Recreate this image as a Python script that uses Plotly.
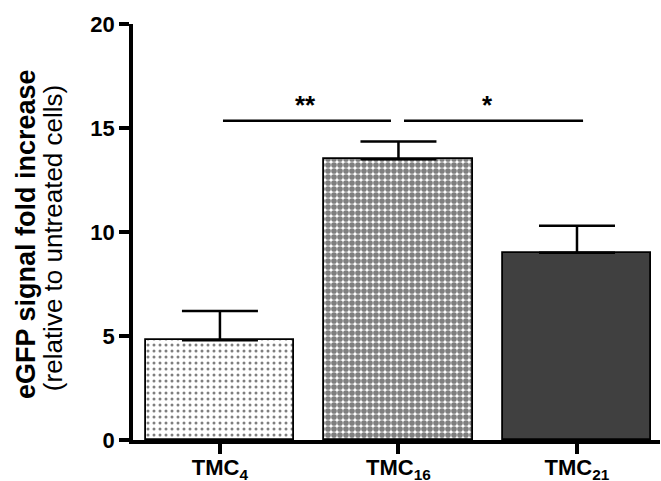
import plotly.graph_objects as go

categories = ["TMC<sub>4</sub>", "TMC<sub>16</sub>", "TMC<sub>21</sub>"]
values = [4.8, 13.5, 9.0]
errors_up = [1.4, 0.85, 1.3]
y_ticks = [0, 5, 10, 15, 20]
sig_labels = ["**", "*"]
sig_pairs = [(0.017, 0.958), (1.031, 2.034)]
sig_line_y = 15.35
sig_text_y = 16.1
sig_text_x = [0.482, 1.501]

xpos = [0, 1, 2]
FONT = "Liberation Sans, Arial"
fig = go.Figure()

patterns = [
    dict(shape=".", fgcolor="black", bgcolor="white", size=6, solidity=0.2),
    dict(shape=".", fgcolor="black", bgcolor="white", size=6, solidity=0.7),
    dict(shape="", fgcolor="#404040", bgcolor="#404040"),
]
fills = ["white", "white", "#404040"]

for i in range(3):
    fig.add_trace(go.Bar(
        x=[xpos[i]], y=[values[i]], width=0.83,
        marker=dict(color=fills[i], line=dict(color="black", width=1.8),
                    pattern=patterns[i]),
        error_y=dict(type="data", array=[errors_up[i]], arrayminus=[0],
                     symmetric=False, color="black", thickness=2.5, width=38),
        showlegend=False,
    ))

shapes = []
for (a, b) in sig_pairs:
    shapes.append(dict(type="line", xref="x", yref="y", x0=a, x1=b,
                       y0=sig_line_y, y1=sig_line_y,
                       line=dict(color="black", width=2.5)))

annotations = []
for lbl, xx in zip(sig_labels, sig_text_x):
    annotations.append(dict(x=xx, y=sig_text_y, xref="x", yref="y", text=f"<b>{lbl}</b>",
                            showarrow=False, xanchor="center", yanchor="middle",
                            font=dict(size=26, color="black", family=FONT)))

# y-axis title as two rotated lines
annotations.append(dict(x=-0.203, y=0.495, xref="paper", yref="paper",
                        text="<b>eGFP signal fold increase</b>", textangle=-90,
                        showarrow=False, xanchor="center", yanchor="middle",
                        font=dict(size=27, color="black", family=FONT)))
annotations.append(dict(x=-0.152, y=0.485, xref="paper", yref="paper",
                        text="(relative to untreated cells)", textangle=-90,
                        showarrow=False, xanchor="center", yanchor="middle",
                        font=dict(size=26, color="black", family=FONT)))

fig.update_layout(
    width=661, height=481,
    margin=dict(l=133, r=1, t=24, b=41, autoexpand=False),
    paper_bgcolor="white", plot_bgcolor="white",
    font=dict(family=FONT, color="black"),
    shapes=shapes, annotations=annotations,
    bargap=0,
)
fig.update_xaxes(
    range=[-0.487, 2.465], tickmode="array", tickvals=xpos,
    ticktext=[f"<b>{c}</b>" for c in categories],
    showline=True, linecolor="black", linewidth=3.5,
    ticks="outside", ticklen=10, tickwidth=3.5, tickcolor="black",
    tickfont=dict(size=22, family=FONT, color="black"),
    ticklabelstandoff=-5,
    showgrid=False, zeroline=False, automargin=False,
)
fig.update_yaxes(
    range=[0, 20], tickmode="array", tickvals=y_ticks,
    ticktext=[f"<b>{t}</b>" for t in y_ticks],
    showline=True, linecolor="black", linewidth=3.5,
    ticks="outside", ticklen=10, tickwidth=3.5, tickcolor="black",
    tickfont=dict(size=22, family=FONT, color="black"),
    showgrid=False, zeroline=False, automargin=False,
)

fig.write_html("out.html", config={"displayModeBar": False},
               post_script="document.body.style.margin='0';document.body.style.overflow='hidden';")
